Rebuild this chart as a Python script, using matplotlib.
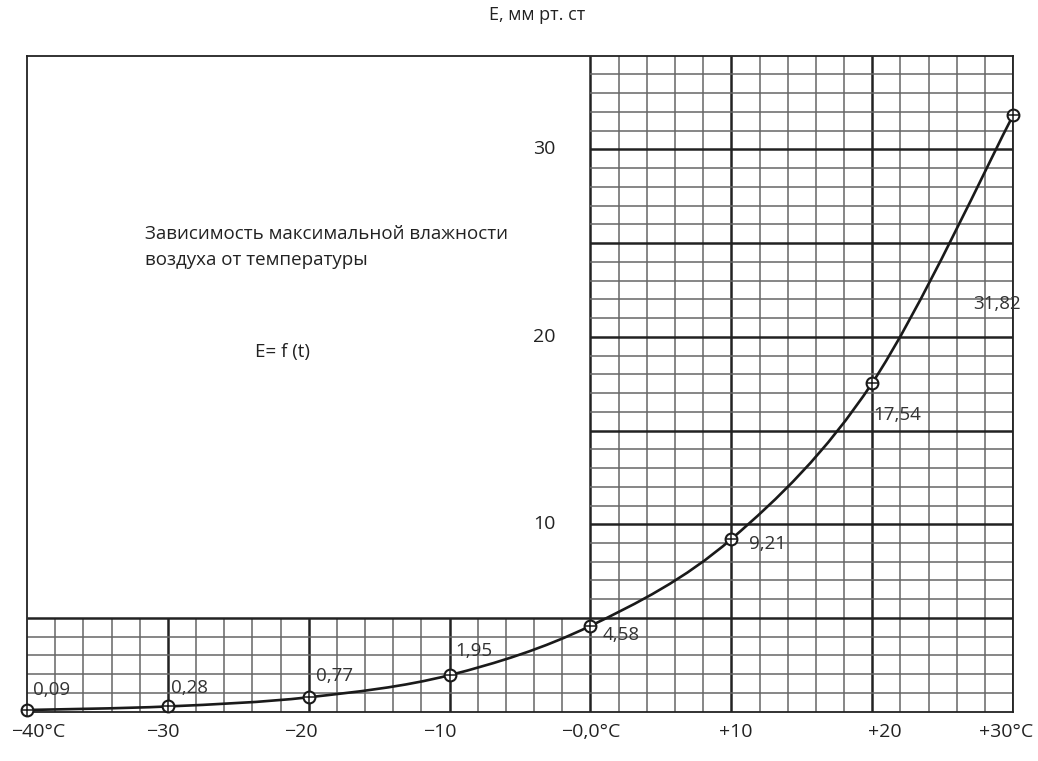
import numpy as np
import matplotlib.pyplot as plt
from matplotlib.path import Path
from matplotlib.patches import PathPatch

plt.rcParams['font.family'] = ['Open Sans', 'DejaVu Sans']

# данные: температура и максимальная влажность
temps = [-40, -30, -20, -10, 0, 10, 20, 30]
hum = [0.09, 0.28, 0.77, 1.95, 4.58, 9.21, 17.54, 31.82]
hum_labels = ['0,09', '0,28', '0,77', '1,95', '4,58', '9,21', '17,54', '31,82']
# смещения подписей в пикселях (левый нижний угол текста)
lab_off = [(6, 11), (3, 9), (7, 12), (6, 15), (12, -18), (18, -14), (1, -41), (-40, -198)]
xtick_vals = [-40, -30, -20, -10, 0, 10, 20, 30]
xtick_txt = ['\u221240\u00b0C', '\u221230', '\u221220', '\u221210', '\u22120,0\u00b0C', '+10', '+20', '+30\u00b0C']
xtick_dx = [11, -5, -8, -10, 0, 4, 13, -7]
ytick_vals = [10, 20, 30]

fig = plt.figure(figsize=(10.38, 7.61), dpi=100)
ax = fig.add_axes([0.026, 0.0648, 0.950, 0.862])
ax.set_xlim(-40, 30)
ax.set_ylim(0, 35)
ax.set_xticks([])
ax.set_yticks([])
for s in ax.spines.values():
    s.set_linewidth(1.3)
    s.set_color('#222222')

minor_c = '#666666'
major_c = '#222222'
# сетка справа (t >= 0)
for x in range(0, 31, 2):
    major = x % 10 == 0
    ax.vlines(x, 0, 35, color=major_c if major else minor_c, lw=1.8 if major else 1.1, zorder=1)
for y in range(6, 35):
    major = y % 5 == 0
    ax.hlines(y, 0, 30, color=major_c if major else minor_c, lw=1.8 if major else 1.1, zorder=1)
# сетка внизу (E <= 5)
for x in range(-38, 0, 2):
    major = x % 10 == 0
    ax.vlines(x, 0, 5, color=major_c if major else minor_c, lw=1.8 if major else 1.1, zorder=1)
for y in range(1, 6):
    major = y % 5 == 0
    ax.hlines(y, -40, 30, color=major_c if major else minor_c, lw=1.8 if major else 1.1, zorder=1)

# плавная кривая через точки (Catmull-Rom -> Bezier)
px = np.array(temps, dtype=float)
py = np.array(hum, dtype=float)
verts = [(px[0], py[0])]
codes = [Path.MOVETO]
n = len(px)
for i in range(n - 1):
    p0 = (px[max(i - 1, 0)], py[max(i - 1, 0)])
    p1 = (px[i], py[i])
    p2 = (px[i + 1], py[i + 1])
    p3 = (px[min(i + 2, n - 1)], py[min(i + 2, n - 1)])
    c1 = (p1[0] + (p2[0] - p0[0]) / 6, p1[1] + (p2[1] - p0[1]) / 6)
    c2 = (p2[0] - (p3[0] - p1[0]) / 6, p2[1] - (p3[1] - p1[1]) / 6)
    verts += [c1, c2, p2]
    codes += [Path.CURVE4] * 3
ax.add_patch(PathPatch(Path(verts, codes), fill=False, lw=1.9, ec='#1a1a1a', zorder=3))

ax.plot(temps, hum, 'o', ms=8.5, mfc='white', mec='#1a1a1a', mew=1.5, zorder=4, clip_on=False)
ax.plot(temps, hum, '+', ms=8.5, mec='#1a1a1a', mew=1.1, zorder=5, clip_on=False)

for t, h, s, off in zip(temps, hum, hum_labels, lab_off):
    ax.annotate(s, (t, h), xytext=off, textcoords='offset pixels', fontsize=13.5,
                color='#333333', ha='left', va='bottom', zorder=6)

for v, s, dx in zip(xtick_vals, xtick_txt, xtick_dx):
    ax.annotate(s, (v, 0), xytext=(dx, -20), textcoords='offset pixels', fontsize=14,
                color='#222222', ha='center', va='center', annotation_clip=False)
for v in ytick_vals:
    ax.text(-3.27, v, str(v), fontsize=14, color='#222222', ha='center', va='center')

fig.text(0.517, 0.980, 'E, мм рт. ст', fontsize=13, color='#222222', ha='center', va='center')
ax.text(-31.6, 24.8, 'Зависимость максимальной влажности\nвоздуха от температуры',
        fontsize=13.5, color='#222222', ha='left', va='center', linespacing=1.55)
ax.text(-23.8, 19.17, 'E= f (t)', fontsize=13.5, color='#222222', ha='left', va='center')

fig.savefig('out.png', dpi=100)
